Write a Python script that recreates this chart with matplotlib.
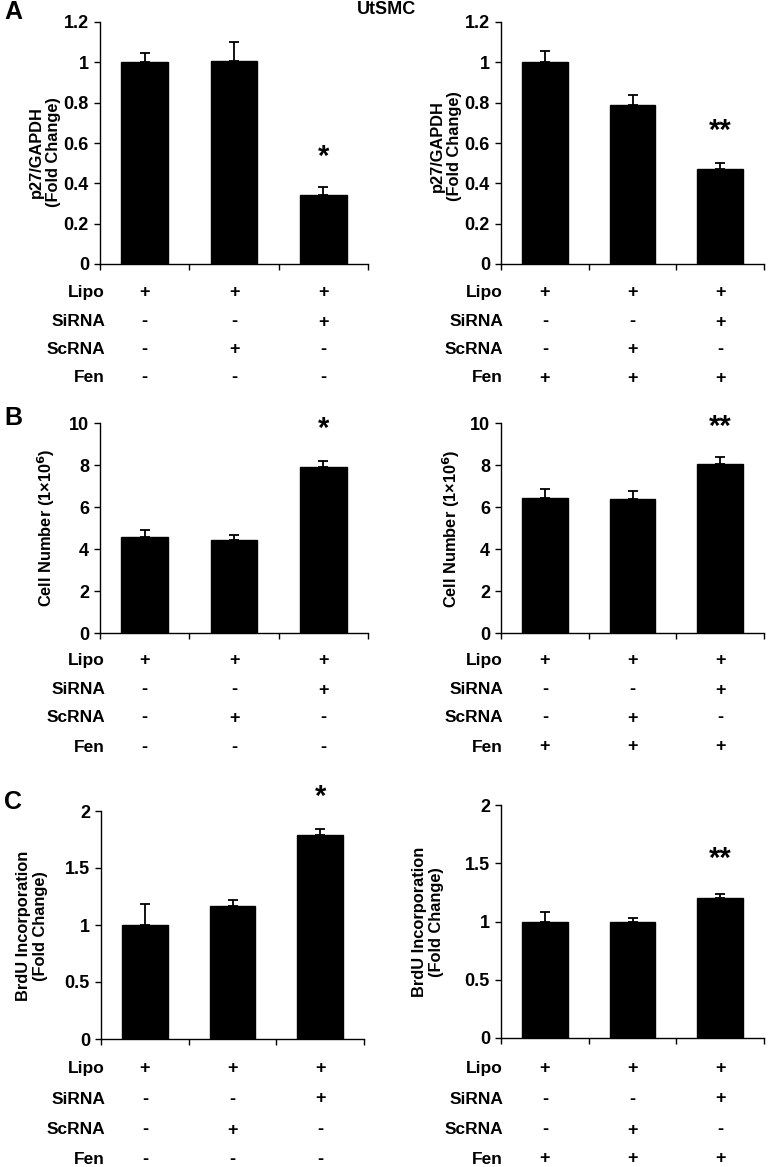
import matplotlib.pyplot as plt
from matplotlib.transforms import blended_transform_factory
import numpy as np

plt.rcParams['font.family'] = ['Liberation Sans', 'DejaVu Sans']
plt.rcParams['font.weight'] = 'bold'

W, H = 769, 1167

# data
p27_left = [1.0, 1.005, 0.342]
p27_left_err = [0.046, 0.095, 0.038]
p27_right = [1.0, 0.786, 0.469]
p27_right_err = [0.057, 0.05, 0.031]

cells_left = [4.57, 4.43, 7.92]
cells_left_err = [0.33, 0.24, 0.27]
cells_right = [6.43, 6.36, 8.06]
cells_right_err = [0.44, 0.42, 0.32]

brdu_left = [1.0, 1.169, 1.79]
brdu_left_err = [0.18, 0.05, 0.05]
brdu_right = [1.0, 0.995, 1.2]
brdu_right_err = [0.08, 0.035, 0.04]

row_names = ['Lipo', 'SiRNA', 'ScRNA', 'Fen']
signs_left = [['+', '+', '+'], ['-', '-', '+'], ['-', '+', '-'], ['-', '-', '-']]
signs_right = [['+', '+', '+'], ['-', '-', '+'], ['-', '+', '-'], ['+', '+', '+']]

fig = plt.figure(figsize=(W / 100, H / 100), dpi=100)


def box(x0, x1, y0, y1):
    # pixel box (top-left origin) -> figure fraction rect
    return [x0 / W, 1 - y1 / H, (x1 - x0) / W, (y1 - y0) / H]


def bar_panel(rect, vals, errs, ymax, step, fmt, star, star_y, ylab, lab_xy):
    ax = fig.add_axes(box(*rect))
    x = np.arange(3) + 0.5
    ax.bar(x, vals, width=0.52, color='black', edgecolor='black')
    ax.errorbar(x, vals, yerr=[[0, 0, 0], errs], fmt='none', ecolor='black',
                elinewidth=1.3, capsize=3.5, capthick=1.3)
    ax.set_xlim(0, 3)
    ax.set_ylim(0, ymax)
    ax.set_xticks([0, 1, 2, 3])
    ax.set_xticklabels([])
    ticks = np.arange(0, ymax + step / 2, step)
    ax.set_yticks(ticks)
    ax.set_yticklabels([fmt(t) for t in ticks], fontsize=13, fontweight='bold')
    ax.tick_params(direction='out', length=4, width=1, pad=4)
    for s in ['top', 'right']:
        ax.spines[s].set_visible(False)
    for s in ['left', 'bottom']:
        ax.spines[s].set_linewidth(1)
    ax.text(2.5, star_y, star, ha='center', va='center', fontsize=21,
            fontweight='bold', clip_on=False)
    fig.text(lab_xy[0] / W, 1 - lab_xy[1] / H, ylab, rotation=90, ha='center',
             va='center', fontsize=11.8, fontweight='bold', linespacing=1.1)
    return ax


def sign_table(ax, signs, rows_y, label_x):
    tr = blended_transform_factory(ax.transData, fig.transFigure)
    for i, name in enumerate(row_names):
        fig.text(label_x / W, 1 - rows_y[i] / H, name, ha='right', va='center',
                 fontsize=12.5, fontweight='bold')
        for j in range(3):
            ax.text(j + 0.5, 1 - rows_y[i] / H, signs[i][j], transform=tr,
                    ha='center', va='center', fontsize=13, fontweight='bold')


def f1(t):
    return '0' if t == 0 else ('%g' % round(t, 1))


def f0(t):
    return '%d' % t


def fh(t):
    return '%g' % t


# panel A
axA1 = bar_panel((100, 368, 22, 264), p27_left, p27_left_err, 1.2, 0.2, f1,
                 '*', 0.53, 'p27/GAPDH\n(Fold Change)', (45, 152))
axA2 = bar_panel((501, 764, 22, 264), p27_right, p27_right_err, 1.2, 0.2, f1,
                 '**', 0.66, 'p27/GAPDH\n(Fold Change)', (446, 146))
sign_table(axA1, signs_left, [293, 322, 350, 378], 105)
sign_table(axA2, signs_right, [293, 322, 350, 378], 503)

# panel B
axB1 = bar_panel((100, 368, 423, 633), cells_left, cells_left_err, 10, 2, f0,
                 '*', 9.7, 'Cell Number (1×10$^{\\mathbf{6}}$)', (46, 528))
axB2 = bar_panel((501, 764, 423, 633), cells_right, cells_right_err, 10, 2, f0,
                 '**', 9.8, 'Cell Number (1×10$^{\\mathbf{6}}$)', (451, 529))
sign_table(axB1, signs_left, [661, 690, 718, 747], 105)
sign_table(axB2, signs_right, [661, 690, 718, 747], 503)

# panel C
axC1 = bar_panel((101, 364, 811, 1039), brdu_left, brdu_left_err, 2, 0.5, fh,
                 '*', 2.12, 'BrdU Incorporation\n(Fold Change)', (32, 926))
axC2 = bar_panel((501, 764, 805, 1038), brdu_right, brdu_right_err, 2, 0.5, fh,
                 '**', 1.54, 'BrdU Incorporation\n(Fold Change)', (428, 922))
sign_table(axC1, signs_left, [1068, 1099, 1130, 1159], 105)
sign_table(axC2, signs_right, [1068, 1099, 1130, 1159], 503)

# panel letters and title
for letter, y in [('A', 12), ('B', 418), ('C', 802)]:
    fig.text(4 / W, 1 - y / H, letter, ha='left', va='center', fontsize=18,
             fontweight='bold')
fig.text(386 / W, 1 - 10 / H, 'UtSMC', ha='center', va='center', fontsize=13,
         fontweight='bold')

fig.savefig('out.png', dpi=100)
